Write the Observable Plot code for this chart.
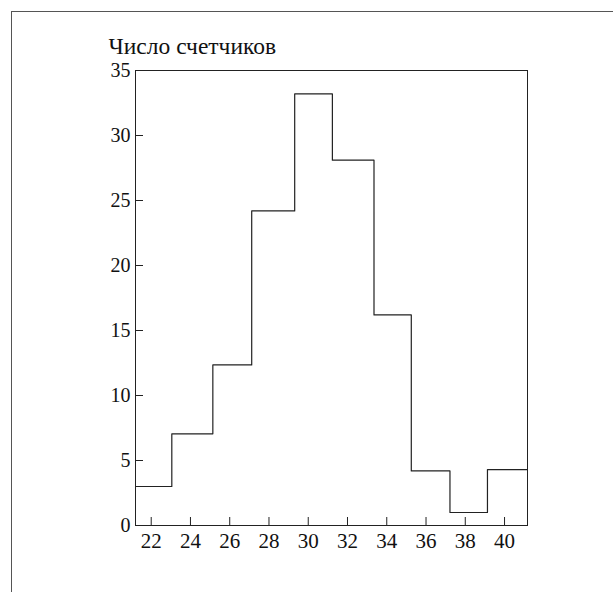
<!DOCTYPE html>
<html>
<head>
<meta charset="utf-8">
<script src="https://cdn.jsdelivr.net/npm/d3@7"></script>
<script src="https://cdn.jsdelivr.net/npm/@observablehq/plot@0.6"></script>
<style>
  html, body { margin: 0; padding: 0; background: #fff; }
  #wrap { position: relative; width: 613px; height: 592px; overflow: hidden; }
  #border { position: absolute; left: 11px; top: 11px; width: 700px; height: 700px;
            border-left: 1px solid #555; border-top: 1px solid #555; }
  #chart { position: absolute; left: 0; top: 0; }
  #chart svg, #chart svg text { font-family: "Liberation Serif", Tinos, "Times New Roman", Times, serif; }
</style>
</head>
<body>
<div id="wrap"><div id="border"></div><div id="chart"></div></div>
<script>
// bin edges (Число счетчиков histogram)
const binEdges = [21.2, 23.05, 25.14, 27.12, 29.31, 31.23, 33.35, 35.25, 37.22, 39.13, 41.17];
const counts = [3.0, 7.05, 12.35, 24.2, 33.2, 28.1, 16.2, 4.2, 1.0, 4.3];
const xTicks = [22, 24, 26, 28, 30, 32, 34, 36, 38, 40];
const yTicks = [0, 5, 10, 15, 20, 25, 30, 35];
const yTitle = "Число счетчиков";

const steps = counts.map((c, i) => ({x: binEdges[i], y: c}));
steps.push({x: binEdges[binEdges.length - 1], y: counts[counts.length - 1]});

const serif = "'Liberation Serif', Tinos, 'Times New Roman', Times, serif";

const plot = Plot.plot({
  width: 613,
  height: 592,
  marginLeft: 135,
  marginRight: 86,
  marginTop: 70,
  marginBottom: 67,
  style: "font-family: 'Liberation Serif', Tinos, 'Times New Roman', serif; font-size: 21px; color: #111; background: transparent;",
  x: {domain: [binEdges[0], binEdges[binEdges.length - 1]]},
  y: {domain: [0, 35]},
  marks: [
    Plot.frame({stroke: "#222", strokeWidth: 1}),
    Plot.line(steps, {x: "x", y: "y", curve: "step-after", stroke: "#222", strokeWidth: 1.2}),
    // labels
    Plot.axisY({ticks: yTicks, tickSize: 0, tickPadding: 5, label: null, fontSize: 20, fontFamily: serif}),
    Plot.axisX({ticks: xTicks, tickSize: 0, tickPadding: 8, label: null, fontSize: 21, fontFamily: serif}),
    // inward ticks
    Plot.axisY({ticks: yTicks, tickSize: 8, dx: 8, text: null, label: null, stroke: "#222"}),
    Plot.axisX({ticks: xTicks, tickSize: 8, dy: -8, text: null, label: null, stroke: "#222"}),
    Plot.text([yTitle], {frameAnchor: "top-left", text: d => d, dx: -27, dy: -24.5, lineAnchor: "middle", textAnchor: "start", fontSize: 23.5, fontFamily: serif, fill: "#111"})
  ]
});
document.getElementById("chart").appendChild(plot);
</script>
</body>
</html>
